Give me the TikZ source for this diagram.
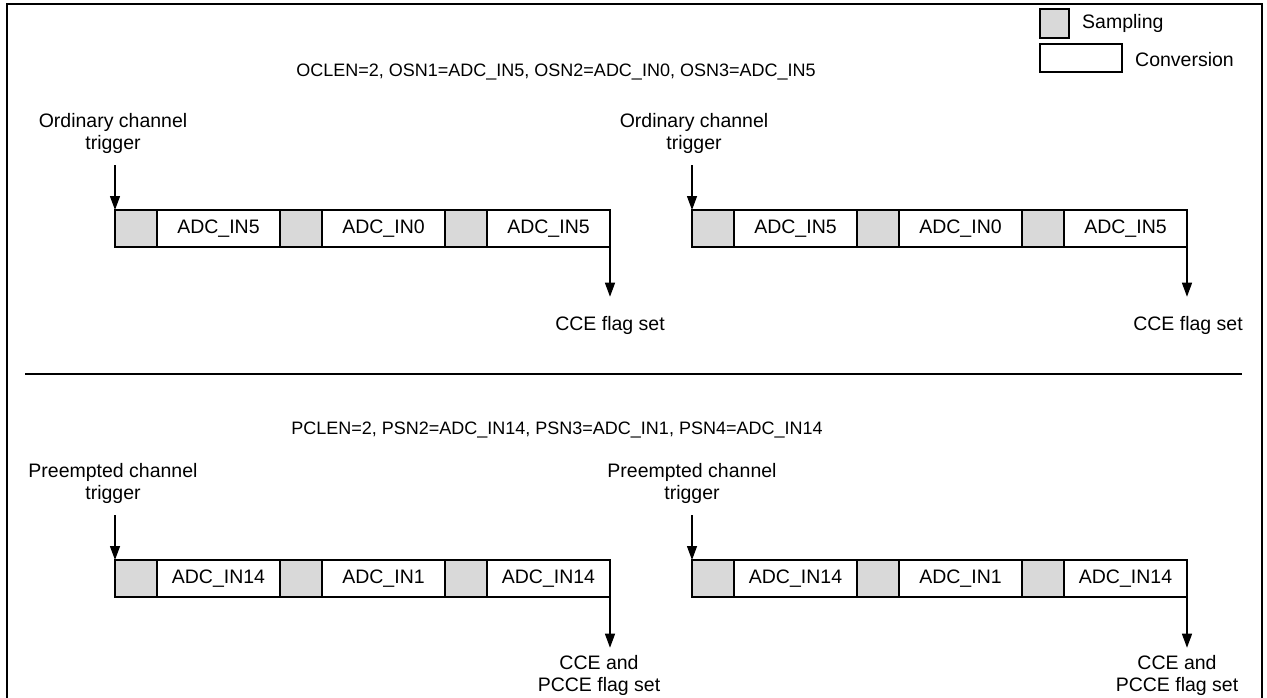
\documentclass[tikz,border=0pt]{standalone}
\usepackage{fontspec}
\setmainfont{Liberation Sans}
\usetikzlibrary{arrows.meta,positioning}

\begin{document}
\begin{tikzpicture}[
  x=1pt, y=-1pt,
  font=\fontsize{19.5}{22}\selectfont,
  samp/.style={draw, fill=gray!30, line width=1.4pt, minimum width=42pt, minimum height=37pt, inner sep=0pt, outer sep=0pt},
  conv/.style={samp, fill=white, minimum width=123pt},
  lbl/.style={align=center, inner sep=0pt},
  arrow/.style={-{Triangle[length=14pt, width=10pt]}, line width=1.3pt}
]
\useasboundingbox (0,0) rectangle (1267,697);

% frame and divider
\draw[line width=2.3pt] (7,700) -- (7,4.3) -- (1262,4.3) -- (1262,700);
\coordinate (divL) at (25,374);
\coordinate (divR) at (1242,374);
\draw[line width=1.5pt] (divL) -- (divR);

% legend
\node[samp, minimum width=29pt, minimum height=29pt, anchor=north west] (legsamp) at (1040,9) {};
\node[conv, minimum width=82pt, minimum height=28pt, anchor=north west] (legconv) at (1040,44) {};
\node[anchor=west, inner sep=0pt] (legsamptxt) at (1082,23) {Sampling};
\node[anchor=west, inner sep=0pt] (legconvtxt) at (1135,60) {Conversion};

% settings
\node[lbl, font=\fontsize{18}{22}\selectfont] (otitle) at (556,72) {OCLEN=2, OSN1=ADC\_IN5, OSN2=ADC\_IN0, OSN3=ADC\_IN5};
\node[lbl, font=\fontsize{18}{22}\selectfont] (ptitle) at (557,430) {PCLEN=2, PSN2=ADC\_IN14, PSN3=ADC\_IN1, PSN4=ADC\_IN14};

% sequences: sampling + conversion, three times
\foreach \nm/\x/\y/\la/\lb in {oa/115/210/ADC\_IN5/ADC\_IN0, ob/692/210/ADC\_IN5/ADC\_IN0,
                                pa/115/560/ADC\_IN14/ADC\_IN1, pb/692/560/ADC\_IN14/ADC\_IN1} {
  \node[samp, anchor=north west] (\nm s1) at (\x,\y) {};
  \node[conv, right=0pt of \nm s1] (\nm c1) {\la};
  \node[samp, right=0pt of \nm c1] (\nm s2) {};
  \node[conv, right=0pt of \nm s2] (\nm c2) {\lb};
  \node[samp, right=0pt of \nm c2] (\nm s3) {};
  \node[conv, right=0pt of \nm s3] (\nm c3) {\la};
}

% triggers
\node[lbl] (otriga) at (113,133) {Ordinary channel\\trigger};
\node[lbl] (otrigb) at (694,133) {Ordinary channel\\trigger};
\node[lbl] (ptriga) at (113,483) {Preempted channel\\trigger};
\node[lbl] (ptrigb) at (692,483) {Preempted channel\\trigger};
\draw[arrow, shorten <=12pt] (otriga.south -| oas1.west) -- (oas1.north west);
\draw[arrow, shorten <=12pt] (otrigb.south -| obs1.west) -- (obs1.north west);
\draw[arrow, shorten <=12pt] (ptriga.south -| pas1.west) -- (pas1.north west);
\draw[arrow, shorten <=12pt] (ptrigb.south -| pbs1.west) -- (pbs1.north west);

% flags
\node[lbl] (ocea) at (610,325) {CCE flag set};
\node[lbl] (oceb) at (1188,325) {CCE flag set};
\node[lbl] (pcea) at (599,675) {CCE and\\PCCE flag set};
\node[lbl] (pceb) at (1177,675) {CCE and\\PCCE flag set};
\draw[arrow, shorten >=19pt] (oac3.south east) -- (oac3.south east |- ocea.north);
\draw[arrow, shorten >=19pt] (obc3.south east) -- (obc3.south east |- oceb.north);
\draw[arrow, shorten >=7pt] (pac3.south east) -- (pac3.south east |- pcea.north);
\draw[arrow, shorten >=7pt] (pbc3.south east) -- (pbc3.south east |- pceb.north);
\end{tikzpicture}
\end{document}
